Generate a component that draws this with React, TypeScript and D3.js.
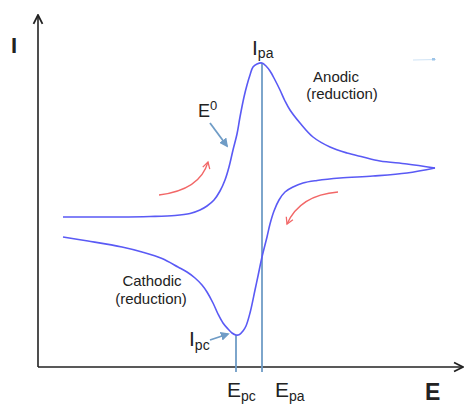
import React from "react";
import * as d3 from "d3";

// values (E, I in arbitrary units)
const forwardE = [25, 82, 112, 137, 152, 162, 169, 176, 182, 187, 191, 195, 199, 202, 206, 209, 212, 215, 219, 224, 228, 232, 237, 242, 247, 252, 262, 275, 292, 309, 325, 342, 369, 397];
const forwardI = [150, 150, 150.5, 151.5, 153.5, 157, 161, 167, 176, 187, 200, 217, 233, 250, 270, 282, 292, 300, 303, 304, 301, 296, 287, 277, 266, 257, 244, 230, 220, 214, 210, 206, 203, 199];
const reverseE = [397, 369, 335, 302, 279, 265, 255, 247, 241, 236, 232, 229, 224, 220, 217, 212, 208, 205, 201.5, 198, 194, 190, 185, 180, 175, 169, 164, 157, 149, 140, 124, 104, 84, 50, 25];
const reverseI = [199, 194, 191, 189, 186.5, 184, 180, 175, 167, 156, 143, 130, 110, 91, 77, 54, 41, 36, 32.5, 32, 34, 38, 44, 53, 64, 75, 82, 89, 95, 100, 108.5, 115, 120, 126, 130];

const peakE = [198, 224]; // E_pc, E_pa
const peakI = [32, 304]; // I_pc, I_pa

const W = 465;
const H = 404;

export default function App() {
  const x = d3.scaleLinear().domain([0, 425]).range([38, 463]);
  const y = d3.scaleLinear().domain([0, 352]).range([367, 15]);

  const line = d3
    .line<number>()
    .x((d) => d[0])
    .y((d) => d[1])
    .curve(d3.curveCatmullRom.alpha(0.5));

  const fwd = forwardE.map((e, i) => [x(e), y(forwardI[i])]);
  const rev = reverseE.map((e, i) => [x(e), y(reverseI[i])]);

  const blue = "#5a5af5";
  const steel = "#6f9cc6";
  const red = "#f26767";
  const font = "Liberation Sans, Arial, sans-serif";

  // red scan-direction arrows
  const a1 = [x(121), y(172)];
  const a1c = [x(162), y(177)];
  const a1e = [x(170), y(205)];
  const a2 = [x(300), y(175)];
  const a2c = [x(262), y(172)];
  const a2e = [x(249), y(143)];

  return (
    <svg width={W} height={H} style={{ position: "absolute", left: 0, top: 0, background: "#fff" }}>
      <defs>
        <marker id="axArrow" viewBox="0 0 10 10" refX="9" refY="5" markerWidth="7" markerHeight="7" orient="auto">
          <path d="M1,1 L9,5 L1,9" fill="none" stroke="#222" strokeWidth="1.6" />
        </marker>
        <marker id="blueArrow" viewBox="0 0 10 10" refX="8" refY="5" markerWidth="5" markerHeight="5" orient="auto">
          <path d="M0,0 L10,5 L0,10 z" fill={steel} />
        </marker>
        <marker id="redArrow" viewBox="0 0 10 10" refX="8" refY="5" markerWidth="7" markerHeight="7" orient="auto">
          <path d="M1,1 L8,5 L1,9" fill="none" stroke={red} strokeWidth="1.4" />
        </marker>
      </defs>

      {/* axes */}
      <line x1={x(0)} y1={y(0)} x2={x(0)} y2={y(352)} stroke="#222" strokeWidth={1.6} markerEnd="url(#axArrow)" />
      <line x1={x(0)} y1={y(0)} x2={x(425)} y2={y(0)} stroke="#222" strokeWidth={1.6} markerEnd="url(#axArrow)" />

      {/* peak potential lines */}
      <line x1={x(peakE[1])} y1={y(-5)} x2={x(peakE[1])} y2={y(peakI[1])} stroke={steel} strokeWidth={1.8} />
      <line x1={x(peakE[0])} y1={y(-5)} x2={x(peakE[0])} y2={y(peakI[0])} stroke={steel} strokeWidth={1.8} />

      {/* voltammogram */}
      <path d={line(fwd as any) || ""} fill="none" stroke={blue} strokeWidth={1.6} />
      <path d={line(rev as any) || ""} fill="none" stroke={blue} strokeWidth={1.6} />

      {/* scan direction */}
      <path d={`M${a1[0]},${a1[1]} Q${a1c[0]},${a1c[1]} ${a1e[0]},${a1e[1]}`} fill="none" stroke={red} strokeWidth={1.3} markerEnd="url(#redArrow)" />
      <path d={`M${a2[0]},${a2[1]} Q${a2c[0]},${a2c[1]} ${a2e[0]},${a2e[1]}`} fill="none" stroke={red} strokeWidth={1.3} markerEnd="url(#redArrow)" />

      {/* label pointers */}
      <line x1={x(172)} y1={y(244)} x2={x(189)} y2={y(221)} stroke={steel} strokeWidth={1.8} markerEnd="url(#blueArrow)" />
      <line x1={x(172)} y1={y(27)} x2={x(190)} y2={y(33)} stroke={steel} strokeWidth={1.8} markerEnd="url(#blueArrow)" />

      {/* faint stray mark */}
      <line x1={413} y1={60} x2={436} y2={59.5} stroke="#cfe3f5" strokeWidth={1.2} />
      <rect x={432} y={58} width={3} height={2.5} fill="#9cc4e8" />

      <g fontFamily={font} fill="#222">
        <text x={11} y={53} fontSize={22} fontWeight="bold">I</text>
        <text x={425} y={400} fontSize={23} fontWeight="bold">E</text>

        <text x={252} y={55} fontSize={21}>I<tspan fontSize={14} dy={3}>pa</tspan></text>
        <text x={198} y={117} fontSize={18}>E<tspan fontSize={13} dy={-7}>0</tspan></text>
        <text x={189} y={346} fontSize={21}>I<tspan fontSize={14} dy={4}>pc</tspan></text>
        <text x={227} y={397} fontSize={21}>E<tspan fontSize={14} dy={4}>pc</tspan></text>
        <text x={275} y={397} fontSize={21}>E<tspan fontSize={14} dy={4}>pa</tspan></text>

        <text x={336} y={82} fontSize={15} textAnchor="middle">Anodic</text>
        <text x={342} y={99} fontSize={15} textAnchor="middle">(reduction)</text>
        <text x={152} y={286} fontSize={15} textAnchor="middle">Cathodic</text>
        <text x={151} y={304} fontSize={15} textAnchor="middle">(reduction)</text>
      </g>
    </svg>
  );
}
